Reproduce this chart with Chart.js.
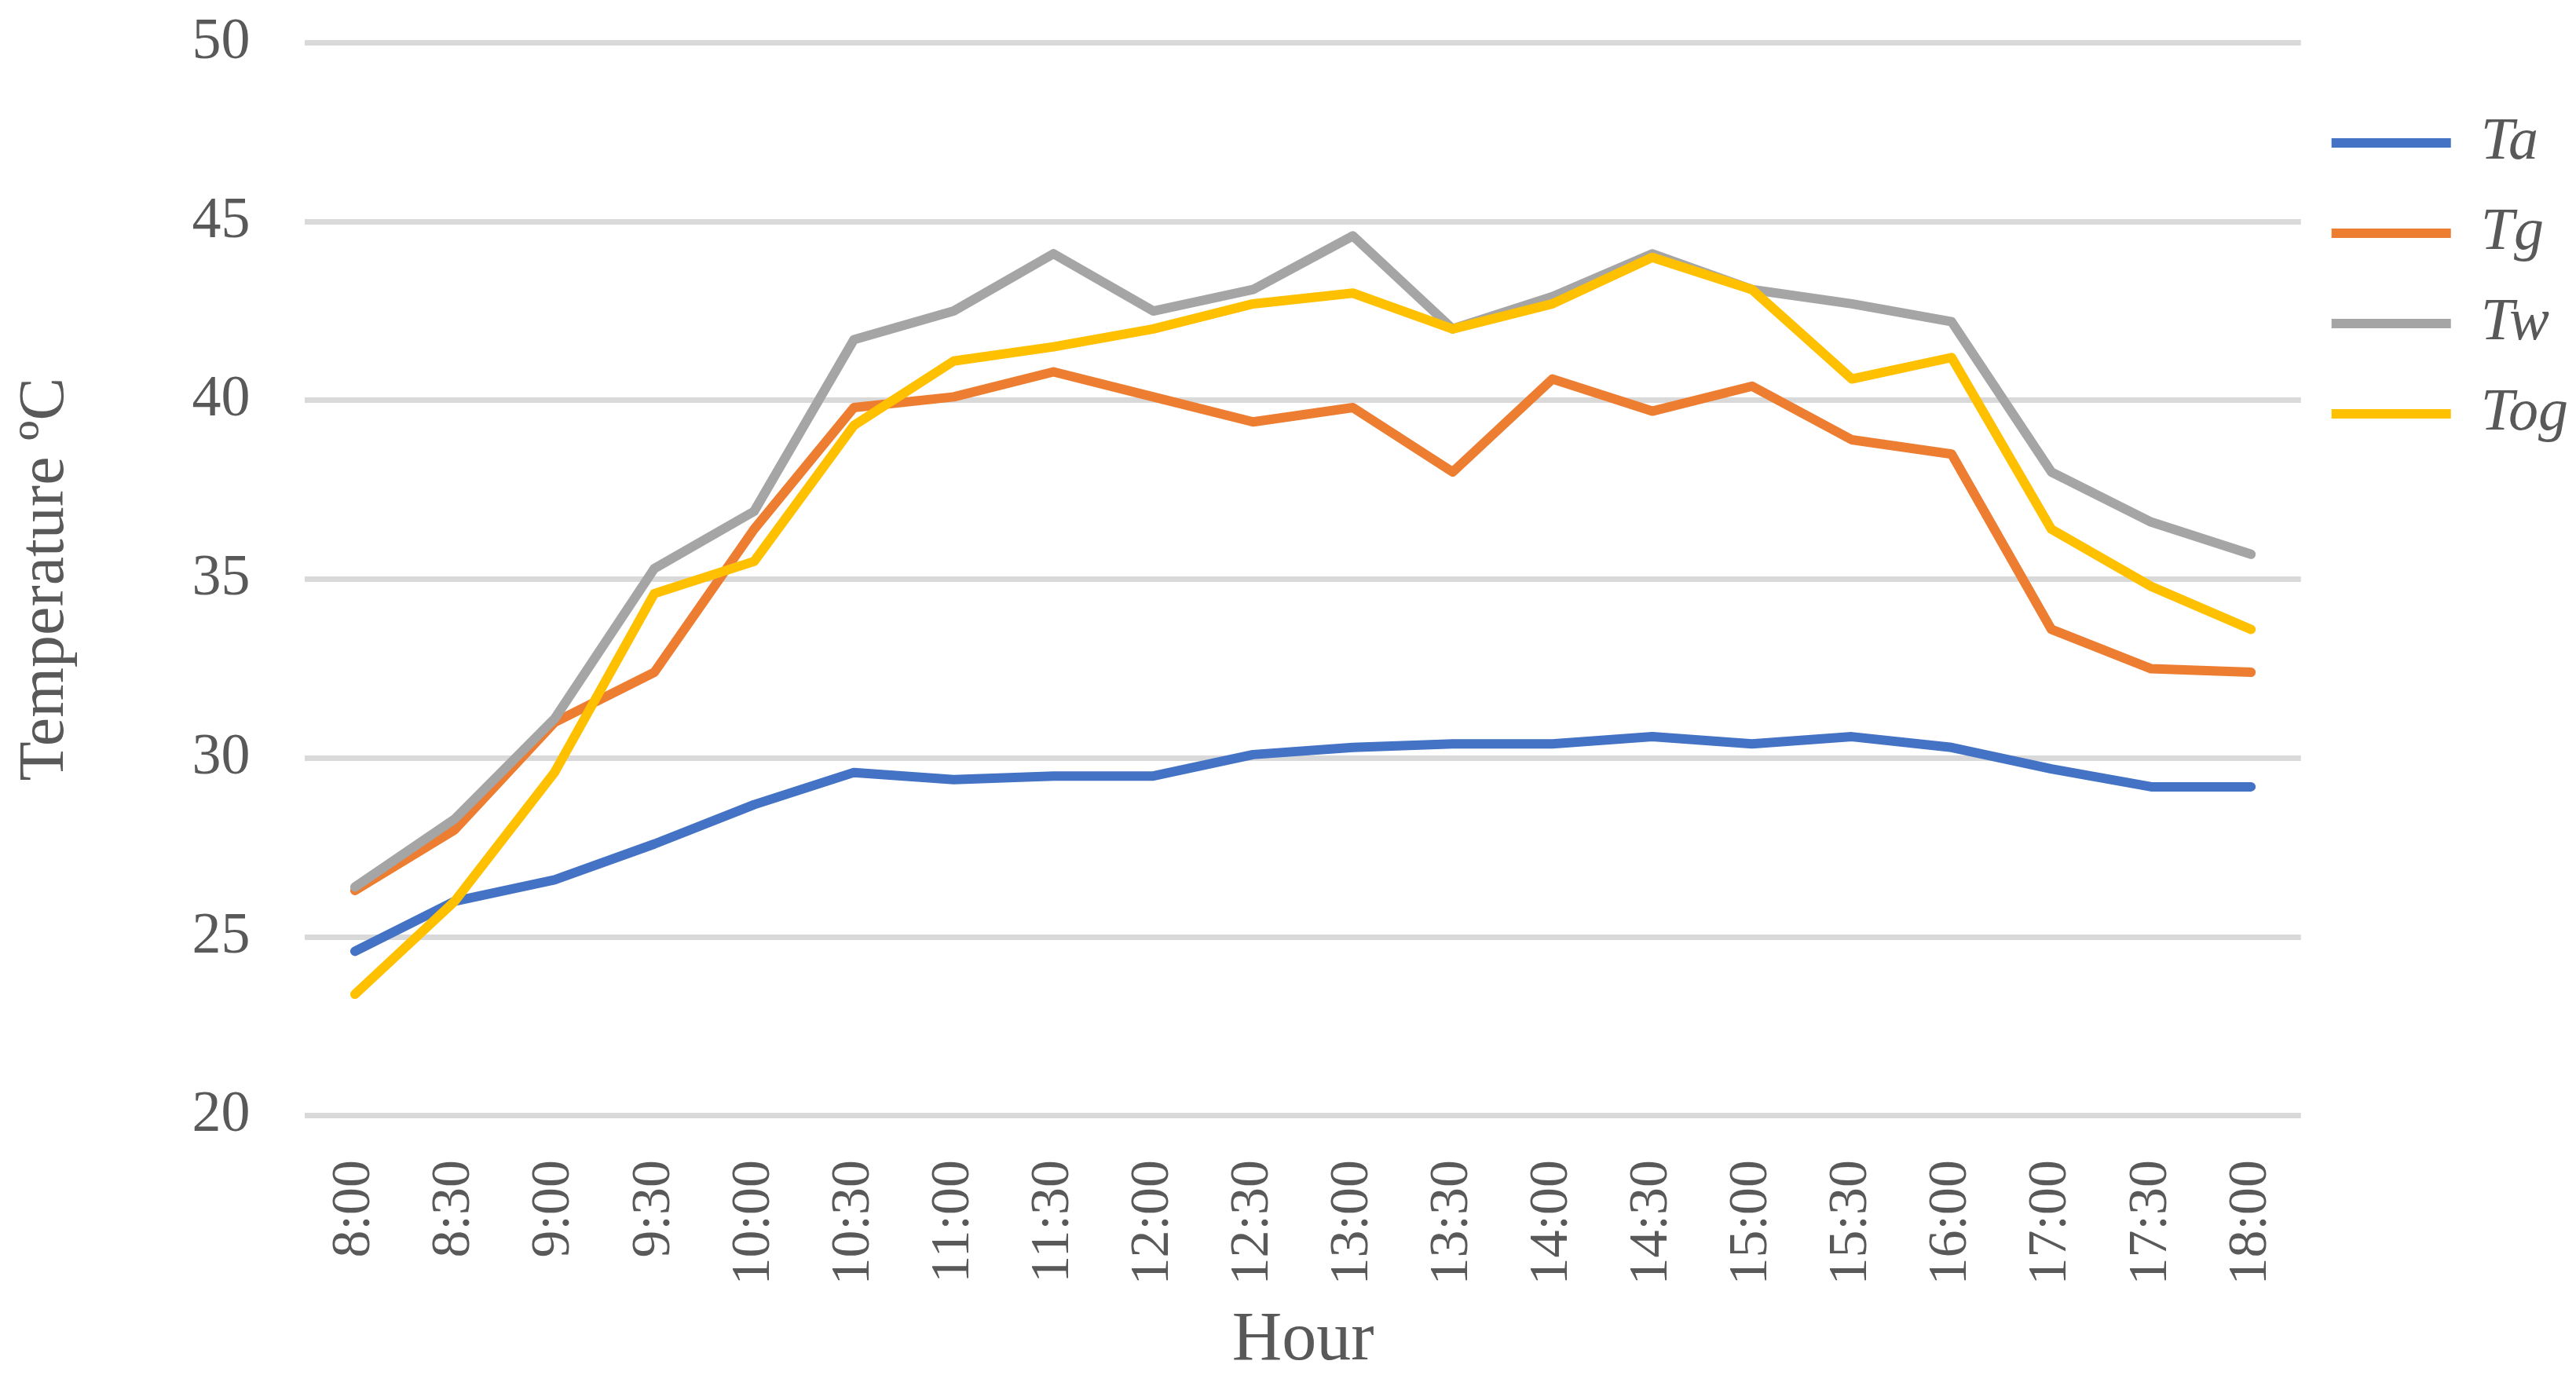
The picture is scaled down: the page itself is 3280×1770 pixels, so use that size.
<!DOCTYPE html>
<html>
<head>
<meta charset="utf-8">
<script src="https://cdn.jsdelivr.net/npm/chart.js@4"></script>
<style>
  html, body { margin: 0; padding: 0; background: #fff; }
</style>
</head>
<body>
<canvas id="tempChart" width="3280" height="1770"></canvas>
<script>
// horas y series de temperatura
const hours = ["8:00", "8:30", "9:00", "9:30", "10:00", "10:30", "11:00", "11:30", "12:00", "12:30",
               "13:00", "13:30", "14:00", "14:30", "15:00", "15:30", "16:00", "17:00", "17:30", "18:00"];
const ta  = [24.6, 26.0, 26.6, 27.6, 28.7, 29.6, 29.4, 29.5, 29.5, 30.1, 30.3, 30.4, 30.4, 30.6, 30.4, 30.6, 30.3, 29.7, 29.2, 29.2];
const tg  = [26.3, 28.0, 31.0, 32.4, 36.4, 39.8, 40.1, 40.8, 40.1, 39.4, 39.8, 38.0, 40.6, 39.7, 40.4, 38.9, 38.5, 33.6, 32.5, 32.4];
const tw  = [26.4, 28.3, 31.1, 35.3, 36.9, 41.7, 42.5, 44.1, 42.5, 43.1, 44.6, 42.0, 42.9, 44.1, 43.1, 42.7, 42.2, 38.0, 36.6, 35.7];
const tog = [23.4, 26.0, 29.6, 34.6, 35.5, 39.3, 41.1, 41.5, 42.0, 42.7, 43.0, 42.0, 42.7, 44.0, 43.1, 40.6, 41.2, 36.4, 34.8, 33.6];
const yTicks = [20, 25, 30, 35, 40, 45, 50];

const textColor = '#595959';
const serif = "'Liberation Serif', 'DejaVu Serif', serif";

function serie(label, data, color, order) {
    return {
        label: label,
        data: data,
        borderColor: color,
        backgroundColor: color,
        borderWidth: 12,
        borderCapStyle: 'round',
        borderJoinStyle: 'round',
        pointRadius: 0,
        tension: 0,
        order: order
    };
}

const ctx = document.getElementById('tempChart').getContext('2d');

const chart = new Chart(ctx, {
    type: 'line',
    data: {
        labels: hours,
        datasets: [
            serie('Ta', ta, '#4472C4', 4),
            serie('Tg', tg, '#ED7D31', 3),
            serie('Tw', tw, '#A5A5A5', 2),
            serie('Tog', tog, '#FFC000', 1)
        ]
    },
    options: {
        responsive: false,
        animation: false,
        devicePixelRatio: 1,
        layout: { padding: { top: 5, right: 0, bottom: 9, left: 0 } },
        plugins: {
            tooltip: { enabled: false },
            legend: {
                position: 'right',
                align: 'start',
                title: { display: true, text: ' ', font: { size: 10, lineHeight: 1 }, padding: { top: 90, bottom: 0 } },
                labels: {
                    sort: (a, b) => a.datasetIndex - b.datasetIndex,
                    usePointStyle: true,
                    pointStyle: 'line',
                    pointStyleWidth: 152,
                    padding: 39,
                    color: textColor,
                    font: { family: serif, size: 76, style: 'italic' }
                }
            }
        },
        scales: {
            x: {
                offset: true,
                grid: { display: false, drawTicks: false },
                border: { display: false },
                ticks: {
                    color: textColor,
                    font: { family: serif, size: 70 },
                    minRotation: 90,
                    maxRotation: 90,
                    padding: 56,
                    autoSkip: false
                },
                title: {
                    display: true,
                    text: 'Hour',
                    color: textColor,
                    font: { family: serif, size: 88 },
                    padding: { top: -37, bottom: 0 }
                }
            },
            y: {
                min: 20,
                max: 50,
                afterBuildTicks: (axis) => { axis.ticks = yTicks.map(v => ({ value: v })); },
                grid: { color: '#D9D9D9', lineWidth: 7, drawTicks: true, tickLength: 60, tickColor: 'rgba(0,0,0,0)' },
                border: { display: false },
                ticks: {
                    color: textColor,
                    font: { family: serif, size: 74 },
                    padding: 10
                },
                title: {
                    display: true,
                    text: 'Temperature ºC',
                    color: textColor,
                    font: { family: serif, size: 82 },
                    padding: { top: 9, bottom: 127 }
                }
            }
        }
    }
});
</script>
</body>
</html>
